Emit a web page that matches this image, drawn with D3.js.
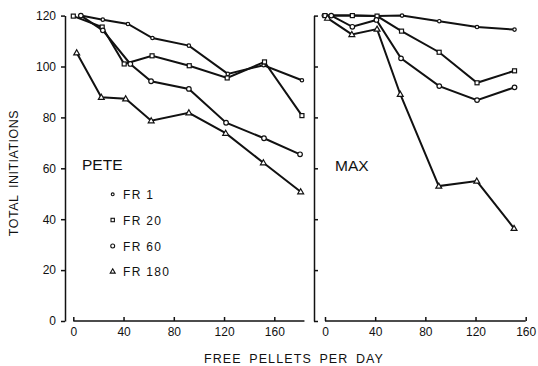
<!DOCTYPE html>
<html>
<head>
<meta charset="utf-8">
<script src="https://cdn.jsdelivr.net/npm/d3@7"></script>
<style>
  body { margin: 0; background: #fff; }
  svg { display: block; font-family: "Liberation Sans", Arial, sans-serif; }
  .tick text { font-size: 12px; fill: #111; }
  .tick line, .axisline { stroke: #111; stroke-width: 1.5; }
</style>
</head>
<body>
<svg width="538" height="366"></svg>
<script>
// schedules and tick values
var schedules = ["FR 1", "FR 20", "FR 60", "FR 180"];
var yTicks = [0, 20, 40, 60, 80, 100, 120];
var xTicks = [0, 40, 80, 120, 160];

// PETE (free pellets per day, total initiations)
var peteFr1X = [6, 23.5, 43.5, 63, 92, 123, 151.5, 182];
var peteFr1Y = [120, 118.4, 116.7, 111.2, 108.2, 97.1, 100.5, 94.6];
var peteFr20X = [0, 23, 40.5, 62.7, 92.3, 122.5, 152.2, 182];
var peteFr20Y = [119.8, 115.5, 101, 104.2, 100.3, 95.5, 101.8, 80.7];
var peteFr60X = [6, 23.5, 45.4, 61.9, 92, 121.6, 151.8, 180.5];
var peteFr60Y = [120, 114.2, 101, 94.2, 91.2, 77.9, 71.8, 65.5];
var peteFr180X = [2.7, 22.3, 41.7, 62, 92, 121.3, 151.3, 181];
var peteFr180Y = [105.4, 87.9, 87.3, 78.7, 81.8, 73.8, 62.2, 50.8];

// MAX
var maxFr1X = [-1, 21.8, 41.5, 61.4, 91.1, 121.2, 151.1];
var maxFr1Y = [120, 120, 119.8, 120, 117.8, 115.5, 114.5];
var maxFr20X = [0, 21.8, 41.5, 61, 91, 121.2, 151.1];
var maxFr20Y = [120, 120, 119.8, 113.9, 105.6, 93.6, 98.3];
var maxFr60X = [5, 21.8, 41, 60.6, 91.1, 121.2, 151.1];
var maxFr60Y = [120, 115.6, 118.3, 103.2, 92.3, 86.8, 91.8];
var maxFr180X = [2, 21.4, 41.5, 60, 90.7, 121, 150.7];
var maxFr180Y = [119, 112.6, 114.7, 89.1, 53, 55, 36.4];

function pts(xs, ys) {
  return xs.map(function(d, i) { return [d, ys[i]]; });
}

var pete = [pts(peteFr1X, peteFr1Y), pts(peteFr20X, peteFr20Y), pts(peteFr60X, peteFr60Y), pts(peteFr180X, peteFr180Y)];
var max = [pts(maxFr1X, maxFr1Y), pts(maxFr20X, maxFr20Y), pts(maxFr60X, maxFr60Y), pts(maxFr180X, maxFr180Y)];

var svg = d3.select("svg");

var y = d3.scaleLinear().domain([0, 120]).range([321, 15.6]);
var xL = d3.scaleLinear().domain([0, 160]).range([73.3, 274.3]);
var xR = d3.scaleLinear().domain([0, 160]).range([325, 525.7]);

// y axes
var gyL = svg.append("g").attr("transform", "translate(65,0)")
  .call(d3.axisLeft(y).tickValues(yTicks).tickSize(4).tickSizeOuter(0).tickPadding(5));
var gyR = svg.append("g").attr("transform", "translate(314,0)")
  .call(d3.axisRight(y).tickValues(yTicks).tickSize(4).tickSizeOuter(0).tickFormat(""));
[gyL, gyR].forEach(function(g) {
  g.select(".domain").attr("stroke", "#111").attr("stroke-width", 1.5);
});

// x axes
var gxL = svg.append("g").attr("transform", "translate(0,321)")
  .call(d3.axisBottom(xL).tickValues(xTicks).tickSize(-4).tickPadding(6));
var gxR = svg.append("g").attr("transform", "translate(0,321)")
  .call(d3.axisBottom(xR).tickValues(xTicks).tickSize(-4).tickPadding(6));
gxL.select(".domain").remove();
gxR.select(".domain").remove();
svg.append("line").attr("class", "axisline")
  .attr("x1", xL(0)).attr("x2", xL(184)).attr("y1", 321).attr("y2", 321);
svg.append("line").attr("class", "axisline")
  .attr("x1", xR(0)).attr("x2", xR(160)).attr("y1", 321).attr("y2", 321);

// markers
function marker(g, type, cx, cy, k) {
  k = k || 1;
  if (type == 0) {
    g.append("circle").attr("cx", cx).attr("cy", cy).attr("r", 1.7 * k);
  } else if (type == 1) {
    g.append("rect").attr("x", cx - 2 * k).attr("y", cy - 2 * k).attr("width", 4 * k).attr("height", 4 * k);
  } else if (type == 2) {
    g.append("circle").attr("cx", cx).attr("cy", cy).attr("r", 2.3 * k);
  } else {
    g.append("path").attr("d", d3.symbol(d3.symbolTriangle, 15 * k * k)()).attr("transform", "translate(" + cx + "," + (cy + 0.4) + ")");
  }
}

var line = d3.line();

function panel(series, x) {
  var g = svg.append("g");
  series.forEach(function(s) {
    g.append("path")
      .attr("d", line(s.map(function(d) { return [x(d[0]), y(d[1])]; })))
      .attr("fill", "none").attr("stroke", "#111").attr("stroke-width", 2);
  });
  var m = svg.append("g").attr("fill", "#fff").attr("stroke", "#111").attr("stroke-width", 1.2);
  series.forEach(function(s, i) {
    s.forEach(function(d) { marker(m, i, x(d[0]), y(d[1])); });
  });
}
panel(pete, xL);
panel(max, xR);

// panel labels
svg.append("text").attr("x", 82).attr("y", 169.5).attr("font-size", 15.5).attr("fill", "#111").text("PETE");
svg.append("text").attr("x", 335).attr("y", 170.7).attr("font-size", 15.5).attr("fill", "#111").text("MAX");

// legend
var legY = [194.3, 220, 246, 271.3];
var lm = svg.append("g").attr("fill", "#fff").attr("stroke", "#111").attr("stroke-width", 1.1);
schedules.forEach(function(s, i) {
  marker(lm, i, 112.7, legY[i], 0.85);
  svg.append("text").attr("x", 123).attr("y", legY[i] + 4.6)
    .attr("font-size", 12).attr("letter-spacing", 1.3).attr("fill", "#111").text(s);
});

// axis titles
svg.append("text")
  .attr("transform", "translate(18,173) rotate(-90)")
  .attr("text-anchor", "middle").attr("font-size", 12.5).attr("letter-spacing", 0.5).attr("word-spacing", 3)
  .attr("fill", "#111").text("TOTAL INITIATIONS");
svg.append("text")
  .attr("x", 294).attr("y", 363)
  .attr("text-anchor", "middle").attr("font-size", 12.5).attr("letter-spacing", 1.1).attr("word-spacing", 3)
  .attr("fill", "#111").text("FREE PELLETS PER DAY");
</script>
</body>
</html>
